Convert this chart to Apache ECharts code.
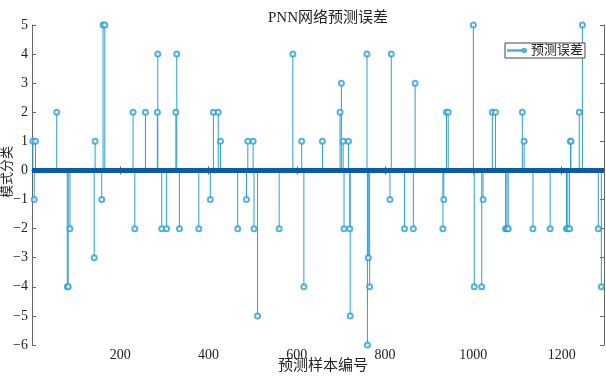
<!DOCTYPE html>
<html>
<head>
<meta charset="utf-8">
<script src="https://cdn.jsdelivr.net/npm/echarts@6/dist/echarts.min.js"></script>
<style>html,body{margin:0;padding:0;background:#fff}#c{width:606px;height:376px}</style>
</head>
<body>
<div id="c"></div>
<script>
// Sample indices with non-zero prediction error, and the error values
const errIndex = [2,5,8,56,80,82,86,141,143,158,161,165,229,233,257,284,285,294,305,326,328,334,378,404,411,422,427,466,486,489,501,503,511,560,591,611,616,658,698,701,705,707,717,720,721,759,760,762,765,811,814,844,864,868,931,933,939,943,1000,1002,1019,1022,1043,1050,1073,1076,1079,1111,1115,1135,1174,1211,1214,1218,1220,1221,1240,1247,1283,1290];
const errValue = [1,-1,1,2,-4,-4,-2,-3,1,-1,5,5,2,-2,2,2,4,-2,-2,2,4,-2,-2,-1,2,2,1,-2,-1,1,1,-2,-5,-2,4,1,-4,1,2,3,1,-2,1,-2,-5,4,-6,-3,-4,-1,4,-2,-2,3,-2,-1,2,2,5,-4,-4,-1,2,2,-2,-2,-2,2,1,-2,-2,-2,-2,-2,1,1,2,5,-2,-4];
const sampleCount = 1296;
const xTicks = [200,400,600,800,1000,1200];
const yTicks = [-6,-5,-4,-3,-2,-1,0,1,2,3,4,5];

const stemColor = '#2a9fd6';
const bandColor = '#0b5ca8';
const axisColor = '#666';
const serif = '"Liberation Serif", "Times New Roman", serif';
const cjk = '"Liberation Serif", "Noto Sans CJK SC", sans-serif';

const pts = errIndex.map((x, i) => [x, errValue[i]]);
const fmt = v => String(v).replace('-', '\u2212');

const chart = echarts.init(document.getElementById('c'), null, {renderer: 'canvas'});
const baseX = {
  type: 'value', min: 0, max: sampleCount, interval: 200,
  axisLine: {show: true, lineStyle: {color: axisColor, width: 1}},
  axisTick: {show: true, inside: true, length: 4, lineStyle: {color: axisColor}},
  splitLine: {show: false}
};
const baseY = {
  type: 'value', min: -6, max: 5, interval: 1,
  axisLine: {show: true, onZero: false, lineStyle: {color: axisColor, width: 1}},
  axisTick: {show: true, inside: true, length: 4, lineStyle: {color: axisColor}},
  splitLine: {show: false}
};
chart.setOption({
  animation: false,
  backgroundColor: '#fff',
  title: {
    text: 'PNN网络预测误差', left: 323, top: 6, textAlign: 'center',
    textStyle: {fontFamily: cjk, fontSize: 15, fontWeight: 'normal', color: '#222'}
  },
  grid: {left: 32, right: 2, top: 25, bottom: 31, containLabel: false, outerBoundsMode: 'none'},
  legend: {
    left: 505, top: 43,
    padding: [1, 2, 1, 2],
    backgroundColor: '#fff', borderColor: '#444', borderWidth: 1,
    itemWidth: 18, itemHeight: 5, itemGap: 0, itemTextGap: 1,
    textStyle: {fontFamily: cjk, fontSize: 13, color: '#222'},
    data: [{
      name: '预测误差',
      icon: 'path://M0,4.3H32V5.7H0Z M32,5 A4,4 0 1 1 40,5 A4,4 0 1 1 32,5 Z M33.2,5 A2.8,2.8 0 1 0 38.8,5 A2.8,2.8 0 1 0 33.2,5 Z',
      itemStyle: {color: stemColor}
    }]
  },
  xAxis: [
    Object.assign({}, baseX, {
      position: 'bottom',
      name: '预测样本编号', nameLocation: 'middle', nameGap: 14, nameMoveOverlap: false,
      nameTextStyle: {fontFamily: cjk, fontSize: 15, color: '#222', padding: [0, 0, 0, 10]},
      axisLabel: {
        show: true, margin: 3, fontFamily: serif, fontSize: 14, color: '#222',
        formatter: v => xTicks.includes(v) ? fmt(v) : ''
      }
    }),
    Object.assign({}, baseX, {position: 'top', axisLabel: {show: false}})
  ],
  yAxis: [
    Object.assign({}, baseY, {
      position: 'left',
      name: '模式分类', nameLocation: 'middle', nameGap: 18, nameMoveOverlap: false,
      nameTextStyle: {fontFamily: cjk, fontSize: 13, color: '#222', padding: [0, 0, 0, 26]},
      axisLabel: {
        show: true, margin: 4, fontFamily: serif, fontSize: 14, color: '#222',
        formatter: v => yTicks.includes(v) ? fmt(v) : ''
      }
    }),
    Object.assign({}, baseY, {position: 'right', axisLabel: {show: false}})
  ],
  series: [
    {
      type: 'bar', xAxisIndex: 0, yAxisIndex: 0, barWidth: 1,
      data: pts, itemStyle: {color: stemColor}, silent: true, z: 2
    },
    {
      type: 'line', xAxisIndex: 0, yAxisIndex: 0,
      data: [[0, 0], [sampleCount, 0]], symbol: 'none',
      lineStyle: {color: bandColor, width: 5}, silent: true, z: 3
    },
    {
      name: '预测误差', type: 'scatter', xAxisIndex: 0, yAxisIndex: 0,
      data: pts, symbol: 'emptyCircle', symbolSize: 5,
      itemStyle: {color: stemColor, borderColor: stemColor, borderWidth: 1},
      z: 4
    }
  ]
});
</script>
</body>
</html>
